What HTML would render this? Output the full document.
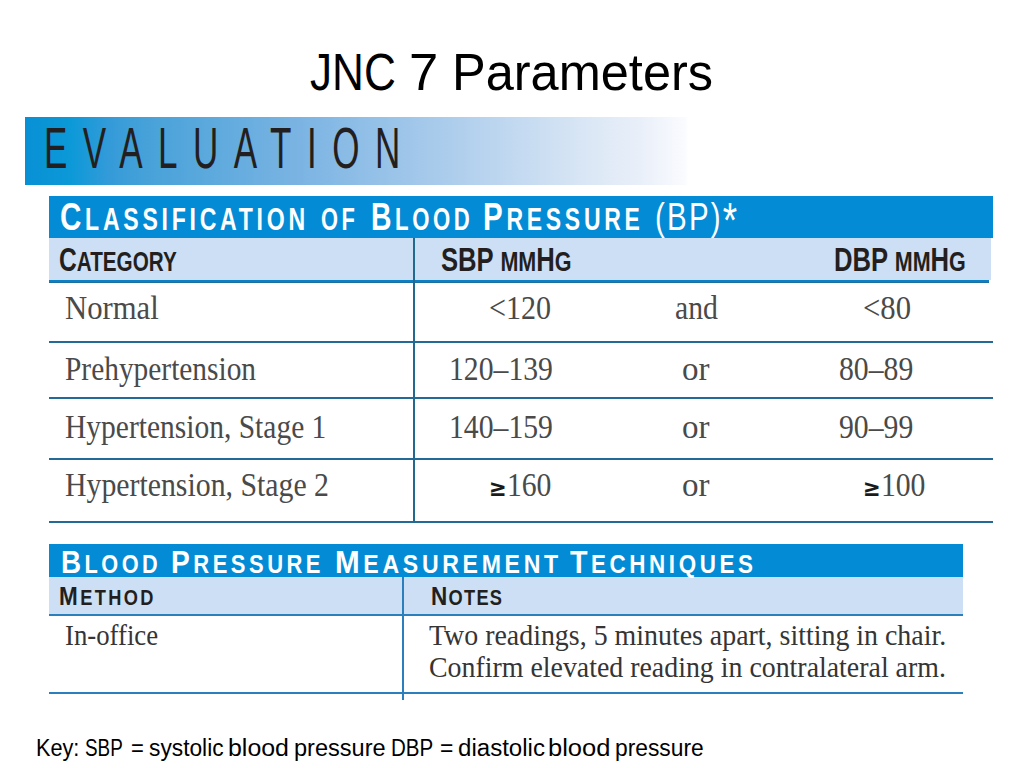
<!DOCTYPE html>
<html>
<head>
<meta charset="utf-8">
<title>JNC 7 Parameters</title>
<style>
html,body{margin:0;padding:0;background:#fff;}
body{width:1024px;height:768px;position:relative;overflow:hidden;}
.a{position:absolute;white-space:nowrap;line-height:1;transform-origin:0 0;}
.r{position:absolute;}
</style>
</head>
<body>
<div class="r" style="left:25px;top:117px;width:663px;height:68px;background:linear-gradient(to right,#0890d4 0%,#0c99d8 6.8%,#349bd8 12.8%,#48a2d9 18.9%,#7bb4e3 41.5%,#adcdec 64.1%,#dee9f6 86.7%,#e9eff9 92.8%,#fafbfe 99.5%,#ffffff 100%);"></div>
<div class="r" style="left:49px;top:196px;width:944px;height:42px;background:#038cd5;"></div>
<div class="r" style="left:49px;top:238px;width:942px;height:42px;background:#cddff4;"></div>
<div class="r" style="left:49px;top:280px;width:940px;height:2px;background:#0a80c6;"></div>
<div class="r" style="left:49px;top:282px;width:940px;height:1px;background:#1d6f9f;"></div>
<div class="r" style="left:49px;top:341px;width:944px;height:2px;background:#236a96;"></div>
<div class="r" style="left:49px;top:397px;width:944px;height:2px;background:#236a96;"></div>
<div class="r" style="left:49px;top:458px;width:944px;height:2px;background:#236a96;"></div>
<div class="r" style="left:49px;top:521px;width:944px;height:2px;background:#236a96;"></div>
<div class="r" style="left:413px;top:238px;width:2px;height:285px;background:#22698f;"></div>
<div class="r" style="left:49px;top:544px;width:914px;height:33px;background:#038cd5;"></div>
<div class="r" style="left:49px;top:577px;width:914px;height:37px;background:#cddff4;"></div>
<div class="r" style="left:49px;top:614px;width:914px;height:2px;background:#2b7fbc;"></div>
<div class="r" style="left:49px;top:692px;width:914px;height:2px;background:#2b7fbc;"></div>
<div class="r" style="left:402px;top:577px;width:2px;height:123px;background:#2b7fbc;"></div>
<div class="a" style="left:310.24px;top:46.70px;font-family:'Liberation Sans',sans-serif;font-weight:normal;font-size:51.5px;color:#000;transform:scaleX(0.8577);">JNC</div>
<div class="a" style="left:408.63px;top:46.70px;font-family:'Liberation Sans',sans-serif;font-weight:normal;font-size:51.5px;color:#000;transform:scaleX(1.0217);">7</div>
<div class="a" style="left:451.58px;top:46.70px;font-family:'Liberation Sans',sans-serif;font-weight:normal;font-size:51.5px;color:#000;transform:scaleX(0.9808);">Parameters</div>
<div class="a" style="left:43.50px;top:120.76px;font-family:'Liberation Sans',sans-serif;font-weight:normal;font-size:56.5px;color:#231f20;letter-spacing:25px;transform:scaleX(0.62);">EVALUATION</div>
<div class="a" style="left:60.10px;top:197.16px;font-family:'Liberation Sans',sans-serif;font-weight:bold;font-size:39.5px;color:#fff;letter-spacing:5px;transform:scaleX(0.7486);">C<span style="font-size:0.78em;text-transform:uppercase">lassification</span></div>
<div class="a" style="left:320.69px;top:197.16px;font-family:'Liberation Sans',sans-serif;font-weight:bold;font-size:39.5px;color:#fff;letter-spacing:5px;transform:scaleX(0.7087);"><span style="font-size:0.78em;text-transform:uppercase">of</span></div>
<div class="a" style="left:370.84px;top:197.16px;font-family:'Liberation Sans',sans-serif;font-weight:bold;font-size:39.5px;color:#fff;letter-spacing:5px;transform:scaleX(0.7188);">B<span style="font-size:0.78em;text-transform:uppercase">lood</span></div>
<div class="a" style="left:482.76px;top:197.16px;font-family:'Liberation Sans',sans-serif;font-weight:bold;font-size:39.5px;color:#fff;letter-spacing:5px;transform:scaleX(0.7461);">P<span style="font-size:0.78em;text-transform:uppercase">ressure</span></div>
<div class="a" style="left:655.01px;top:197.16px;font-family:'Liberation Sans',sans-serif;font-weight:bold;font-size:39.5px;color:#fff;letter-spacing:5px;transform:scaleX(0.7458);"><span style="font-weight:normal;letter-spacing:3px">(BP)<span style="font-size:1.25em;line-height:0;vertical-align:-8px">*</span></span></div>
<div class="a" style="left:59.00px;top:243.06px;font-family:'Liberation Sans',sans-serif;font-weight:bold;font-size:33px;color:#231f20;transform:scaleX(0.746);">C<span style="font-size:0.84em;text-transform:uppercase">ategory</span></div>
<div class="a" style="left:441.00px;top:242.86px;font-family:'Liberation Sans',sans-serif;font-weight:bold;font-size:33px;color:#231f20;transform:scaleX(0.777);">SBP <span style="font-size:0.84em;text-transform:uppercase">mm</span>H<span style="font-size:0.84em;text-transform:uppercase">g</span></div>
<div class="a" style="left:834.00px;top:242.86px;font-family:'Liberation Sans',sans-serif;font-weight:bold;font-size:33px;color:#231f20;transform:scaleX(0.776);">DBP <span style="font-size:0.84em;text-transform:uppercase">mm</span>H<span style="font-size:0.84em;text-transform:uppercase">g</span></div>
<div class="a" style="left:65.00px;top:291.57px;font-family:'Liberation Serif',serif;font-weight:normal;font-size:33px;color:#4a4a4a;transform:scaleX(0.93);">Normal</div>
<div class="a" style="left:65.00px;top:352.87px;font-family:'Liberation Serif',serif;font-weight:normal;font-size:33px;color:#4a4a4a;transform:scaleX(0.891);">Prehypertension</div>
<div class="a" style="left:65.00px;top:410.77px;font-family:'Liberation Serif',serif;font-weight:normal;font-size:33px;color:#4a4a4a;transform:scaleX(0.894);">Hypertension, Stage 1</div>
<div class="a" style="left:65.00px;top:468.87px;font-family:'Liberation Serif',serif;font-weight:normal;font-size:33px;color:#4a4a4a;transform:scaleX(0.903);">Hypertension, Stage 2</div>
<div class="a" style="left:489.00px;top:291.67px;font-family:'Liberation Serif',serif;font-weight:normal;font-size:33px;color:#4a4a4a;transform:scaleX(0.912);">&lt;120</div>
<div class="a" style="left:449.00px;top:352.87px;font-family:'Liberation Serif',serif;font-weight:normal;font-size:33px;color:#4a4a4a;transform:scaleX(0.9);">120–139</div>
<div class="a" style="left:448.50px;top:410.87px;font-family:'Liberation Serif',serif;font-weight:normal;font-size:33px;color:#4a4a4a;transform:scaleX(0.9);">140–159</div>
<div class="a" style="left:489.00px;top:468.87px;font-family:'Liberation Serif',serif;font-weight:normal;font-size:33px;color:#4a4a4a;transform:scaleX(0.9);"><span style="font-family:DejaVu Sans,sans-serif;font-size:0.72em;font-weight:bold;color:#1a1a1a">≥</span>160</div>
<div class="a" style="left:675.00px;top:292.07px;font-family:'Liberation Serif',serif;font-weight:normal;font-size:33px;color:#4a4a4a;transform:scaleX(0.9);">and</div>
<div class="a" style="left:682.00px;top:352.87px;font-family:'Liberation Serif',serif;font-weight:normal;font-size:33px;color:#4a4a4a;">or</div>
<div class="a" style="left:682.00px;top:410.87px;font-family:'Liberation Serif',serif;font-weight:normal;font-size:33px;color:#4a4a4a;">or</div>
<div class="a" style="left:682.00px;top:468.87px;font-family:'Liberation Serif',serif;font-weight:normal;font-size:33px;color:#4a4a4a;">or</div>
<div class="a" style="left:862.50px;top:291.67px;font-family:'Liberation Serif',serif;font-weight:normal;font-size:33px;color:#4a4a4a;transform:scaleX(0.93);">&lt;80</div>
<div class="a" style="left:839.00px;top:352.57px;font-family:'Liberation Serif',serif;font-weight:normal;font-size:33px;color:#4a4a4a;transform:scaleX(0.9);">80–89</div>
<div class="a" style="left:839.00px;top:410.87px;font-family:'Liberation Serif',serif;font-weight:normal;font-size:33px;color:#4a4a4a;transform:scaleX(0.9);">90–99</div>
<div class="a" style="left:862.50px;top:468.97px;font-family:'Liberation Serif',serif;font-weight:normal;font-size:33px;color:#4a4a4a;transform:scaleX(0.9);"><span style="font-family:DejaVu Sans,sans-serif;font-size:0.72em;font-weight:bold;color:#1a1a1a">≥</span>100</div>
<div class="a" style="left:60.76px;top:545.91px;font-family:'Liberation Sans',sans-serif;font-weight:bold;font-size:32px;color:#fff;letter-spacing:4px;transform:scaleX(0.8704);">B<span style="font-size:0.78em;text-transform:uppercase">lood</span></div>
<div class="a" style="left:171.04px;top:545.91px;font-family:'Liberation Sans',sans-serif;font-weight:bold;font-size:32px;color:#fff;letter-spacing:4px;transform:scaleX(0.8796);">P<span style="font-size:0.78em;text-transform:uppercase">ressure</span></div>
<div class="a" style="left:334.75px;top:545.91px;font-family:'Liberation Sans',sans-serif;font-weight:bold;font-size:32px;color:#fff;letter-spacing:4px;transform:scaleX(0.9247);">M<span style="font-size:0.78em;text-transform:uppercase">easurement</span></div>
<div class="a" style="left:570.00px;top:545.91px;font-family:'Liberation Sans',sans-serif;font-weight:bold;font-size:32px;color:#fff;letter-spacing:4px;transform:scaleX(0.8966);">T<span style="font-size:0.78em;text-transform:uppercase">echniques</span></div>
<div class="a" style="left:59.00px;top:582.76px;font-family:'Liberation Sans',sans-serif;font-weight:bold;font-size:26.5px;color:#231f20;letter-spacing:2.8px;transform:scaleX(0.85);">M<span style="font-size:0.81em;text-transform:uppercase">ethod</span></div>
<div class="a" style="left:431.00px;top:582.56px;font-family:'Liberation Sans',sans-serif;font-weight:bold;font-size:26.5px;color:#231f20;letter-spacing:1.5px;transform:scaleX(0.85);">N<span style="font-size:0.81em;text-transform:uppercase">otes</span></div>
<div class="a" style="left:65.00px;top:620.04px;font-family:'Liberation Serif',serif;font-weight:normal;font-size:30.4px;color:#353535;transform:scaleX(0.88);">In-office</div>
<div class="a" style="left:428.50px;top:619.94px;font-family:'Liberation Serif',serif;font-weight:normal;font-size:30.4px;color:#353535;transform:scaleX(0.918);">Two readings, 5 minutes apart, sitting in chair.</div>
<div class="a" style="left:428.50px;top:652.14px;font-family:'Liberation Serif',serif;font-weight:normal;font-size:30.4px;color:#353535;transform:scaleX(0.917);">Confirm elevated reading in contralateral arm.</div>
<div class="a" style="left:36.01px;top:736.83px;font-family:'Liberation Sans',sans-serif;font-weight:normal;font-size:23px;color:#000;transform:scaleX(0.9429);">Key:</div>
<div class="a" style="left:85.38px;top:736.83px;font-family:'Liberation Sans',sans-serif;font-weight:normal;font-size:23px;color:#000;transform:scaleX(0.8205);">SBP</div>
<div class="a" style="left:131.05px;top:736.83px;font-family:'Liberation Sans',sans-serif;font-weight:normal;font-size:23px;color:#000;transform:scaleX(0.9545);">=</div>
<div class="a" style="left:148.91px;top:736.83px;font-family:'Liberation Sans',sans-serif;font-weight:normal;font-size:23px;color:#000;transform:scaleX(0.9892);">systolic</div>
<div class="a" style="left:228.23px;top:736.83px;font-family:'Liberation Sans',sans-serif;font-weight:normal;font-size:23px;color:#000;transform:scaleX(1.083);">blood</div>
<div class="a" style="left:294.35px;top:736.83px;font-family:'Liberation Sans',sans-serif;font-weight:normal;font-size:23px;color:#000;transform:scaleX(1.0241);">pressure</div>
<div class="a" style="left:391.41px;top:736.83px;font-family:'Liberation Sans',sans-serif;font-weight:normal;font-size:23px;color:#000;transform:scaleX(0.8932);">DBP</div>
<div class="a" style="left:440.01px;top:736.83px;font-family:'Liberation Sans',sans-serif;font-weight:normal;font-size:23px;color:#000;transform:scaleX(0.9909);">=</div>
<div class="a" style="left:457.65px;top:736.83px;font-family:'Liberation Sans',sans-serif;font-weight:normal;font-size:23px;color:#000;transform:scaleX(1.0469);">diastolic</div>
<div class="a" style="left:548.08px;top:736.83px;font-family:'Liberation Sans',sans-serif;font-weight:normal;font-size:23px;color:#000;transform:scaleX(1.1094);">blood</div>
<div class="a" style="left:615.32px;top:736.83px;font-family:'Liberation Sans',sans-serif;font-weight:normal;font-size:23px;color:#000;transform:scaleX(0.9908);">pressure</div>
</body>
</html>
